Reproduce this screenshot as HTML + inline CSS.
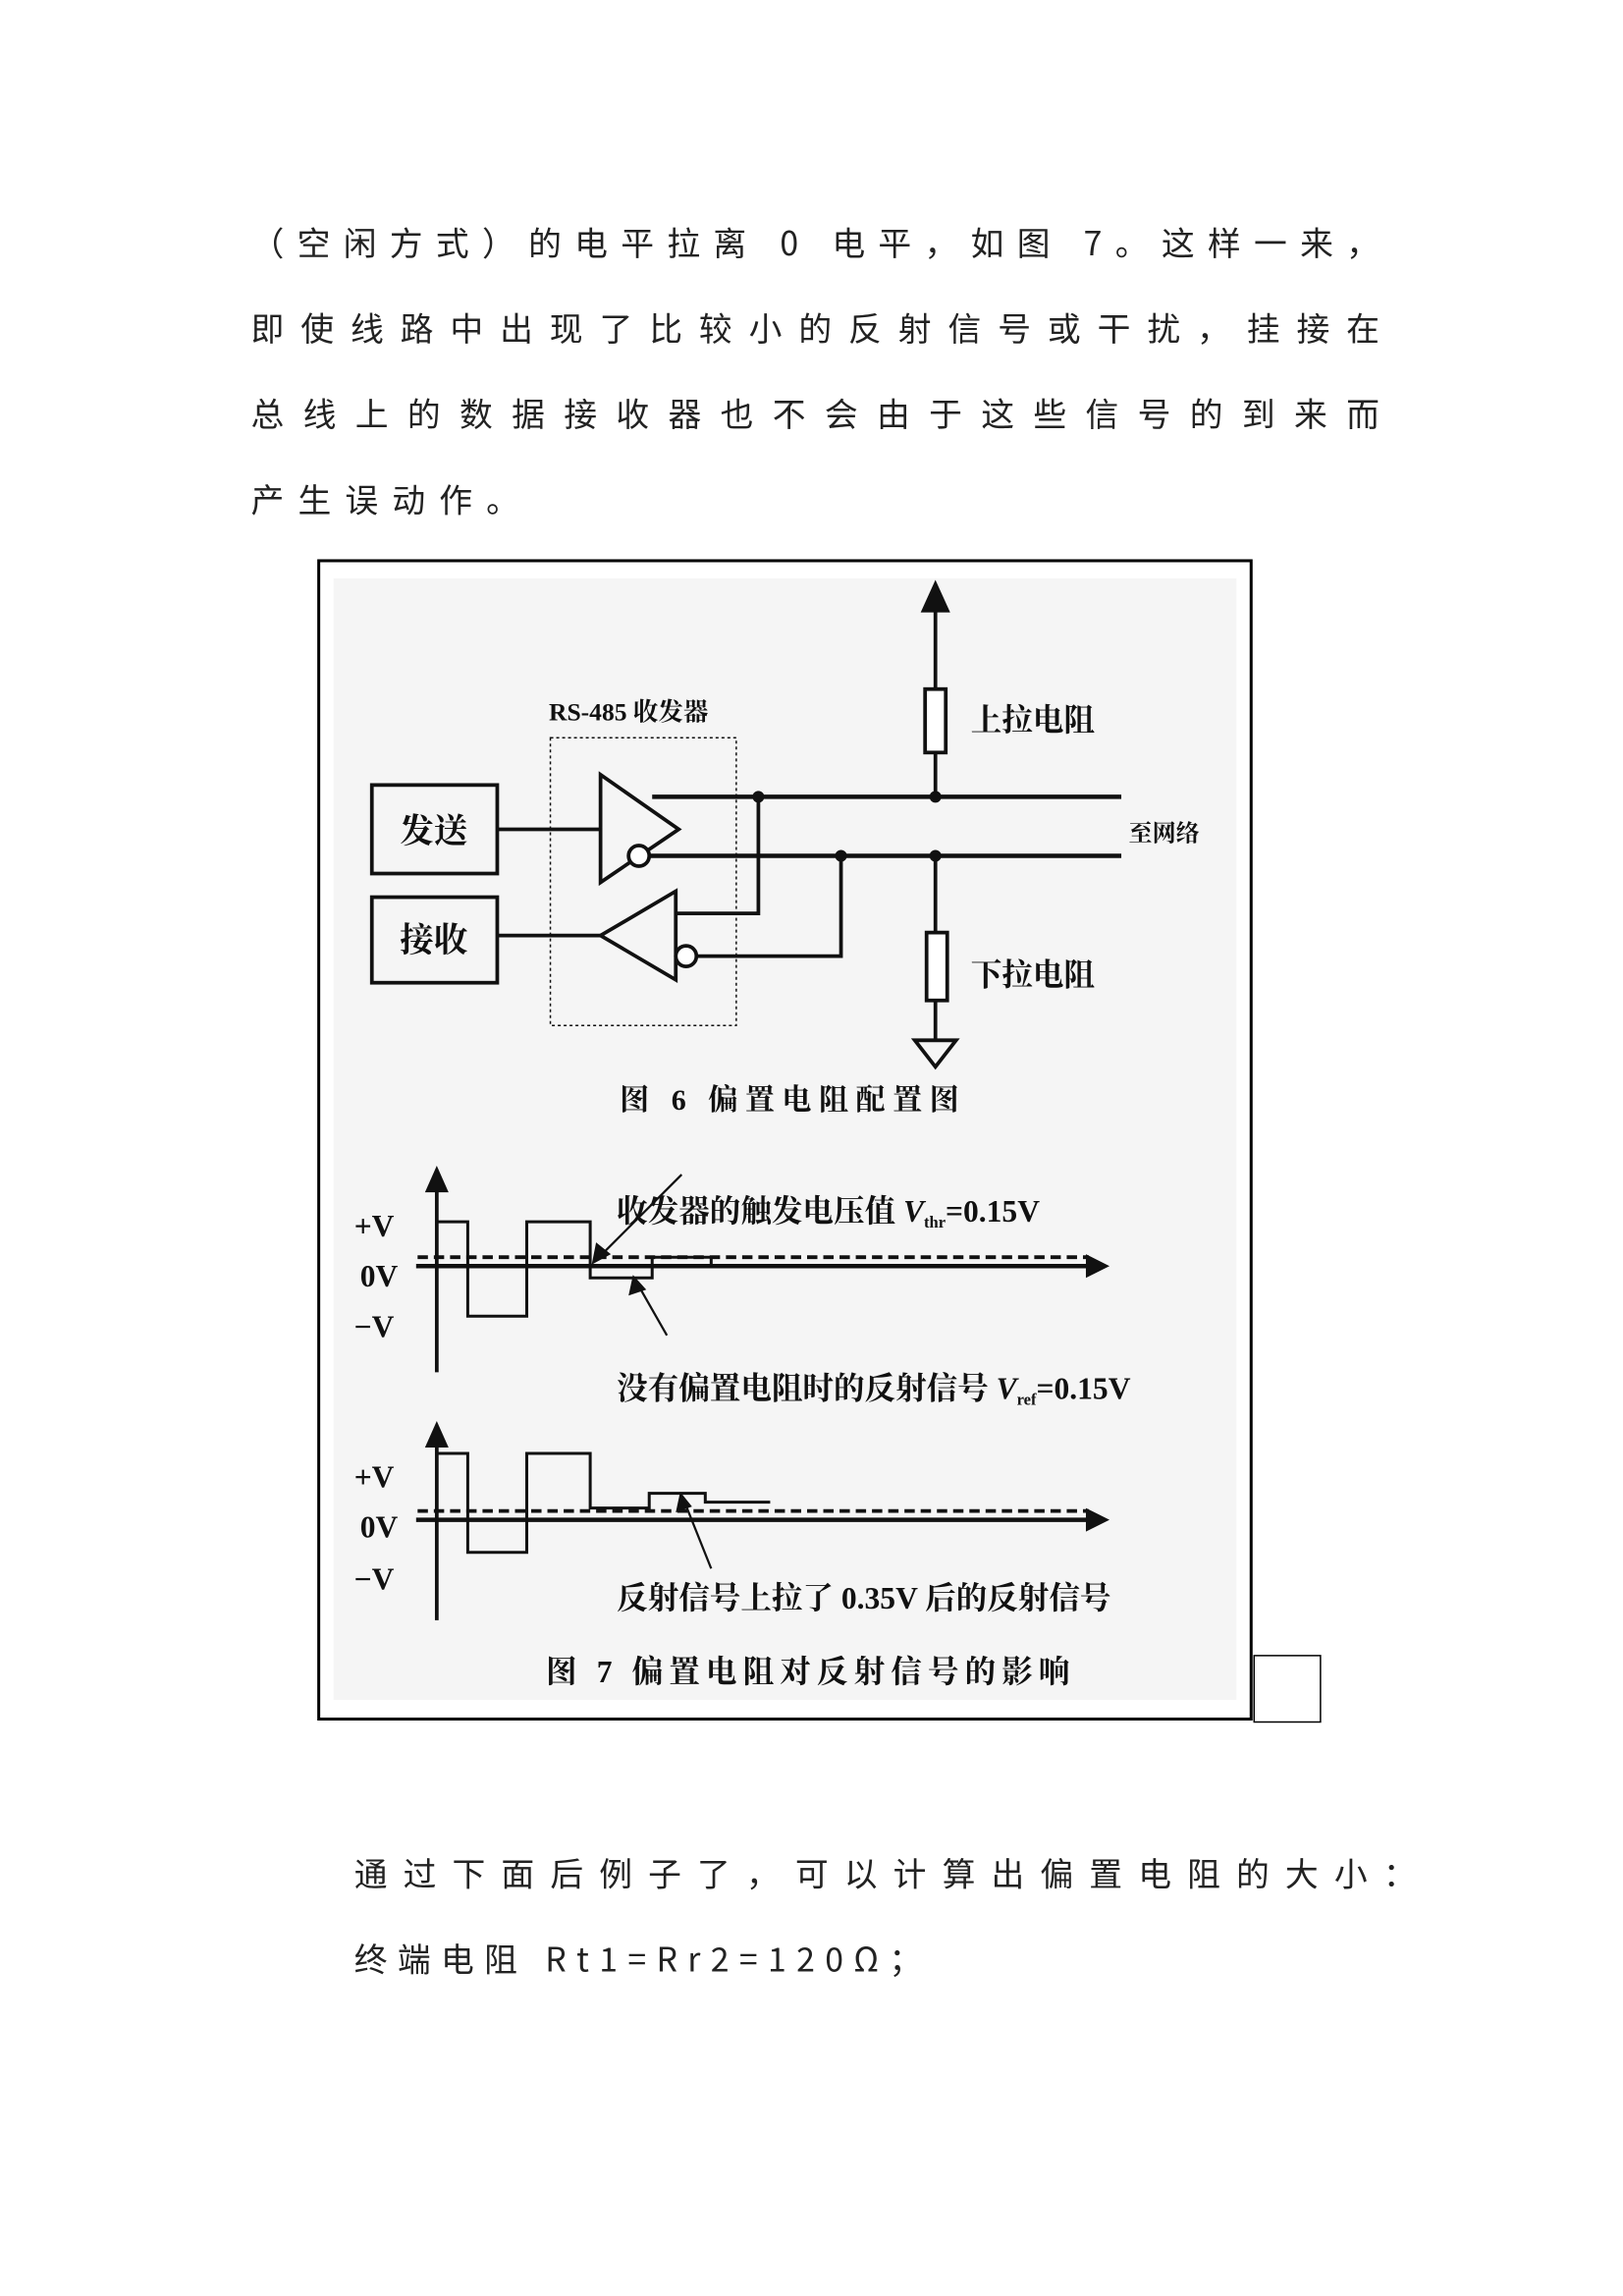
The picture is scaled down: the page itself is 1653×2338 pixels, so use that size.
<!DOCTYPE html>
<html><head><meta charset="utf-8"><style>
html,body{margin:0;padding:0;background:#fff;}
svg{display:block;}
.p{font-family:"Noto Sans CJK SC","Liberation Mono",sans-serif;font-size:22.5px;fill:#222;}
.d{font-family:"Liberation Serif","Noto Serif CJK SC",serif;font-weight:bold;fill:#111;}
</style></head><body>
<svg width="1653" height="2338" viewBox="0 0 1100 1556" xmlns="http://www.w3.org/2000/svg">
<rect width="1100" height="1556" fill="#fff"/>
<text class="p" x="170" y="173" textLength="765" lengthAdjust="spacing">（空闲方式）的电平拉离 0 电平，如图 7。这样一来，</text>
<text class="p" x="170" y="231" textLength="765" lengthAdjust="spacing">即使线路中出现了比较小的反射信号或干扰，挂接在</text>
<text class="p" x="170" y="289" textLength="765" lengthAdjust="spacing">总线上的数据接收器也不会由于这些信号的到来而</text>
<text class="p" x="170" y="347" textLength="182" lengthAdjust="spacing">产生误动作。</text>

<rect x="216" y="380" width="632" height="785" fill="#fff" stroke="#000" stroke-width="2"/>
<rect x="226" y="392" width="612" height="760" fill="#f5f5f5"/>

<g stroke="#111" stroke-width="2.5" fill="none">
<line x1="634" y1="412" x2="634" y2="540"/>
<rect x="627" y="467" width="14" height="43" fill="#fff"/>
<line x1="442" y1="540" x2="760" y2="540" stroke-width="3"/>
<line x1="440" y1="580" x2="760" y2="580" stroke-width="3"/>
<line x1="634" y1="580" x2="634" y2="705"/>
<rect x="628" y="632" width="14" height="46" fill="#fff"/>
<polygon points="620,705 648,705 634,723"/>
<rect x="373" y="500" width="126" height="195" stroke-width="1" stroke-dasharray="2,2"/>
<rect x="252" y="532" width="85" height="60"/>
<rect x="252" y="608" width="85" height="58"/>
<line x1="337" y1="562" x2="407" y2="562"/>
<line x1="337" y1="634" x2="407" y2="634"/>
<polygon points="407,525 407,598 460,562"/>
<circle cx="433" cy="580" r="7" fill="#fff"/>
<polygon points="407,634 458,604 458,664"/>
<circle cx="465" cy="648" r="7" fill="#fff"/>
<polyline points="458,619 514,619 514,540"/>
<polyline points="472,648 570,648 570,580"/>
</g>
<polygon points="634,393 624,415 644,415" fill="#111"/>
<g fill="#111"><circle cx="514" cy="540" r="4"/><circle cx="634" cy="540" r="4"/><circle cx="570" cy="580" r="4"/><circle cx="634" cy="580" r="4"/></g>

<text class="d" x="372" y="488" font-size="17">RS-485 收发器</text>
<text class="d" x="658" y="495" font-size="21">上拉电阻</text>
<text class="d" x="658" y="668" font-size="21">下拉电阻</text>
<text class="d" x="765" y="570" font-size="16">至网络</text>
<text class="d" x="294" y="571" font-size="23" text-anchor="middle">发送</text>
<text class="d" x="294" y="645" font-size="23" text-anchor="middle">接收</text>
<text class="d" x="420" y="752" font-size="20" textLength="230" lengthAdjust="spacing">图 6  偏置电阻配置图</text>

<g stroke="#111" fill="none">
<line x1="296" y1="805" x2="296" y2="930" stroke-width="2.5"/>
<line x1="282" y1="858" x2="738" y2="858" stroke-width="3"/>
<line x1="283" y1="852" x2="738" y2="852" stroke-width="2.5" stroke-dasharray="7,4"/>
<polyline points="297,828 317,828 317,892 357,892 357,828 400,828 400,866 442,866 442,852 482,852 482,858" stroke-width="2"/>
<line x1="462" y1="796" x2="406" y2="852" stroke-width="1.5"/>
<line x1="452" y1="905" x2="432" y2="870" stroke-width="1.5"/>
<line x1="296" y1="978" x2="296" y2="1098" stroke-width="2.5"/>
<line x1="282" y1="1030" x2="738" y2="1030" stroke-width="3"/>
<line x1="283" y1="1024" x2="738" y2="1024" stroke-width="2.5" stroke-dasharray="7,4"/>
<polyline points="297,985 317,985 317,1052 357,1052 357,985 400,985 400,1022 440,1022 440,1012 478,1012 478,1018 522,1018" stroke-width="2"/>
<line x1="482" y1="1063" x2="464" y2="1018" stroke-width="1.5"/>
</g>
<g fill="#111">
<polygon points="296,790 288,808 304,808"/>
<polygon points="752,858 736,850 736,866"/>
<polygon points="401,857 404,842 414,850"/>
<polygon points="429,864 426,878 438,874"/>
<polygon points="296,963 288,981 304,981"/>
<polygon points="752,1030 736,1022 736,1038"/>
<polygon points="461,1011 458,1025 469,1021"/>
</g>
<g class="d" font-size="21">
<text x="240" y="838">+V</text><text x="244" y="872">0V</text><text x="240" y="906">−V</text>
<text x="240" y="1008">+V</text><text x="244" y="1042">0V</text><text x="240" y="1077">−V</text>
<text x="418" y="828">收发器的触发电压值 <tspan font-style="italic">V</tspan><tspan font-size="11" dy="4">thr</tspan><tspan dy="-4">=0.15V</tspan></text>
<text x="418" y="948">没有偏置电阻时的反射信号 <tspan font-style="italic">V</tspan><tspan font-size="11" dy="4">ref</tspan><tspan dy="-4">=0.15V</tspan></text>
<text x="418" y="1090">反射信号上拉了 0.35V 后的反射信号</text>
<text x="370" y="1140" textLength="355" lengthAdjust="spacing">图 7  偏置电阻对反射信号的影响</text>
</g>
<rect x="850" y="1122" width="45" height="45" fill="#fff" stroke="#000" stroke-width="1"/>

<text class="p" x="240" y="1278" textLength="720" lengthAdjust="spacing">通过下面后例子了，可以计算出偏置电阻的大小：</text>
<text class="p" x="240" y="1336" textLength="385" lengthAdjust="spacing">终端电阻 Rt1=Rr2=120Ω；</text>
</svg>
</body></html>
